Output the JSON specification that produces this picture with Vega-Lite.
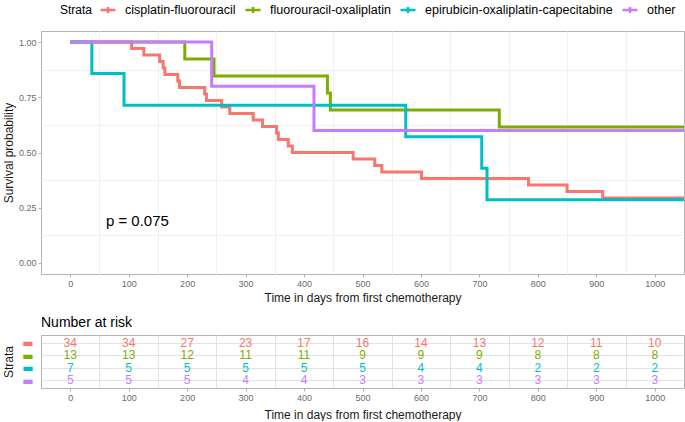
{
  "$schema": "https://vega.github.io/schema/vega-lite/v6.json",
  "padding": {"left": 1, "top": 0, "right": 1, "bottom": 0},
  "background": "white",
  "datasets": {
    "km": [
      {"strata": "cisplatin-fluorouracil", "time": 0, "surv": 1},
      {"strata": "cisplatin-fluorouracil", "time": 105, "surv": 0.9706},
      {"strata": "cisplatin-fluorouracil", "time": 126, "surv": 0.9412},
      {"strata": "cisplatin-fluorouracil", "time": 153, "surv": 0.9118},
      {"strata": "cisplatin-fluorouracil", "time": 159, "surv": 0.8824},
      {"strata": "cisplatin-fluorouracil", "time": 162, "surv": 0.8529},
      {"strata": "cisplatin-fluorouracil", "time": 184, "surv": 0.8235},
      {"strata": "cisplatin-fluorouracil", "time": 187, "surv": 0.7941},
      {"strata": "cisplatin-fluorouracil", "time": 230, "surv": 0.7647},
      {"strata": "cisplatin-fluorouracil", "time": 233, "surv": 0.7353},
      {"strata": "cisplatin-fluorouracil", "time": 259, "surv": 0.7059},
      {"strata": "cisplatin-fluorouracil", "time": 273, "surv": 0.6765},
      {"strata": "cisplatin-fluorouracil", "time": 313, "surv": 0.6471},
      {"strata": "cisplatin-fluorouracil", "time": 329, "surv": 0.6176},
      {"strata": "cisplatin-fluorouracil", "time": 353, "surv": 0.5882},
      {"strata": "cisplatin-fluorouracil", "time": 356, "surv": 0.5588},
      {"strata": "cisplatin-fluorouracil", "time": 373, "surv": 0.5294},
      {"strata": "cisplatin-fluorouracil", "time": 380, "surv": 0.5},
      {"strata": "cisplatin-fluorouracil", "time": 484, "surv": 0.4706},
      {"strata": "cisplatin-fluorouracil", "time": 521, "surv": 0.4412},
      {"strata": "cisplatin-fluorouracil", "time": 533, "surv": 0.4118},
      {"strata": "cisplatin-fluorouracil", "time": 601, "surv": 0.3824},
      {"strata": "cisplatin-fluorouracil", "time": 784, "surv": 0.3529},
      {"strata": "cisplatin-fluorouracil", "time": 850, "surv": 0.3235},
      {"strata": "cisplatin-fluorouracil", "time": 911, "surv": 0.2941},
      {"strata": "cisplatin-fluorouracil", "time": 1050, "surv": 0.2941},
      {"strata": "fluorouracil-oxaliplatin", "time": 0, "surv": 1},
      {"strata": "fluorouracil-oxaliplatin", "time": 196, "surv": 0.9231},
      {"strata": "fluorouracil-oxaliplatin", "time": 246, "surv": 0.8462},
      {"strata": "fluorouracil-oxaliplatin", "time": 440, "surv": 0.7692},
      {"strata": "fluorouracil-oxaliplatin", "time": 445, "surv": 0.6923},
      {"strata": "fluorouracil-oxaliplatin", "time": 734, "surv": 0.6154},
      {"strata": "fluorouracil-oxaliplatin", "time": 1050, "surv": 0.6154},
      {"strata": "epirubicin-oxaliplatin-capecitabine", "time": 0, "surv": 1},
      {"strata": "epirubicin-oxaliplatin-capecitabine", "time": 37, "surv": 0.8571},
      {"strata": "epirubicin-oxaliplatin-capecitabine", "time": 92, "surv": 0.7143},
      {"strata": "epirubicin-oxaliplatin-capecitabine", "time": 574, "surv": 0.5714},
      {"strata": "epirubicin-oxaliplatin-capecitabine", "time": 704, "surv": 0.4286},
      {"strata": "epirubicin-oxaliplatin-capecitabine", "time": 713, "surv": 0.2857},
      {"strata": "epirubicin-oxaliplatin-capecitabine", "time": 1050, "surv": 0.2857},
      {"strata": "other", "time": 0, "surv": 1},
      {"strata": "other", "time": 242, "surv": 0.8},
      {"strata": "other", "time": 417, "surv": 0.6},
      {"strata": "other", "time": 1050, "surv": 0.6}
    ],
    "pval": [{"x": 61, "y": 0.19, "label": "p = 0.075"}],
    "risk": [
      {"strata": "cisplatin-fluorouracil", "time": 0, "n": 34},
      {"strata": "cisplatin-fluorouracil", "time": 100, "n": 34},
      {"strata": "cisplatin-fluorouracil", "time": 200, "n": 27},
      {"strata": "cisplatin-fluorouracil", "time": 300, "n": 23},
      {"strata": "cisplatin-fluorouracil", "time": 400, "n": 17},
      {"strata": "cisplatin-fluorouracil", "time": 500, "n": 16},
      {"strata": "cisplatin-fluorouracil", "time": 600, "n": 14},
      {"strata": "cisplatin-fluorouracil", "time": 700, "n": 13},
      {"strata": "cisplatin-fluorouracil", "time": 800, "n": 12},
      {"strata": "cisplatin-fluorouracil", "time": 900, "n": 11},
      {"strata": "cisplatin-fluorouracil", "time": 1000, "n": 10},
      {"strata": "fluorouracil-oxaliplatin", "time": 0, "n": 13},
      {"strata": "fluorouracil-oxaliplatin", "time": 100, "n": 13},
      {"strata": "fluorouracil-oxaliplatin", "time": 200, "n": 12},
      {"strata": "fluorouracil-oxaliplatin", "time": 300, "n": 11},
      {"strata": "fluorouracil-oxaliplatin", "time": 400, "n": 11},
      {"strata": "fluorouracil-oxaliplatin", "time": 500, "n": 9},
      {"strata": "fluorouracil-oxaliplatin", "time": 600, "n": 9},
      {"strata": "fluorouracil-oxaliplatin", "time": 700, "n": 9},
      {"strata": "fluorouracil-oxaliplatin", "time": 800, "n": 8},
      {"strata": "fluorouracil-oxaliplatin", "time": 900, "n": 8},
      {"strata": "fluorouracil-oxaliplatin", "time": 1000, "n": 8},
      {"strata": "epirubicin-oxaliplatin-capecitabine", "time": 0, "n": 7},
      {"strata": "epirubicin-oxaliplatin-capecitabine", "time": 100, "n": 5},
      {"strata": "epirubicin-oxaliplatin-capecitabine", "time": 200, "n": 5},
      {"strata": "epirubicin-oxaliplatin-capecitabine", "time": 300, "n": 5},
      {"strata": "epirubicin-oxaliplatin-capecitabine", "time": 400, "n": 5},
      {"strata": "epirubicin-oxaliplatin-capecitabine", "time": 500, "n": 5},
      {"strata": "epirubicin-oxaliplatin-capecitabine", "time": 600, "n": 4},
      {"strata": "epirubicin-oxaliplatin-capecitabine", "time": 700, "n": 4},
      {"strata": "epirubicin-oxaliplatin-capecitabine", "time": 800, "n": 2},
      {"strata": "epirubicin-oxaliplatin-capecitabine", "time": 900, "n": 2},
      {"strata": "epirubicin-oxaliplatin-capecitabine", "time": 1000, "n": 2},
      {"strata": "other", "time": 0, "n": 5},
      {"strata": "other", "time": 100, "n": 5},
      {"strata": "other", "time": 200, "n": 5},
      {"strata": "other", "time": 300, "n": 4},
      {"strata": "other", "time": 400, "n": 4},
      {"strata": "other", "time": 500, "n": 3},
      {"strata": "other", "time": 600, "n": 3},
      {"strata": "other", "time": 700, "n": 3},
      {"strata": "other", "time": 800, "n": 3},
      {"strata": "other", "time": 900, "n": 3},
      {"strata": "other", "time": 1000, "n": 3}
    ]
  },
  "vconcat": [
    {
      "width": 643,
      "height": 243,
      "layer": [
        {
          "data": {"name": "pval"},
          "mark": {"type": "text", "align": "left", "baseline": "middle", "fontSize": 15, "color": "#000000"},
          "encoding": {
            "x": {"field": "x", "type": "quantitative", "scale": {"domain": [-50, 1050], "nice": false, "zero": false},
              "axis": {"orient": "top", "values": [50, 150, 250, 350, 450, 550, 650, 750, 850, 950], "labels": false, "ticks": false, "title": null, "grid": true, "gridColor": "#F0F0F0"}},
            "y": {"field": "y", "type": "quantitative", "scale": {"domain": [-0.05, 1.05], "nice": false, "zero": false},
              "axis": {"orient": "right", "values": [0.125, 0.375, 0.625, 0.875], "labels": false, "ticks": false, "title": null, "grid": true, "gridColor": "#F0F0F0"}},
            "text": {"field": "label", "type": "nominal"}
          }
        },
        {
          "data": {"name": "km"},
          "mark": {"type": "line", "interpolate": "step-after", "strokeWidth": 3, "clip": true},
          "encoding": {
            "x": {"field": "time", "type": "quantitative", "scale": {"domain": [-50, 1050], "nice": false, "zero": false},
              "axis": {"values": [0, 100, 200, 300, 400, 500, 600, 700, 800, 900, 1000], "format": "d", "title": "Time in days from first chemotherapy", "labelPadding": 2, "titlePadding": 4}},
            "y": {"field": "surv", "type": "quantitative", "scale": {"domain": [-0.05, 1.05], "nice": false, "zero": false},
              "axis": {"values": [0, 0.25, 0.5, 0.75, 1], "format": ".2f", "title": "Survival probability", "labelPadding": 2, "titlePadding": 3}},
            "color": {"field": "strata", "type": "nominal",
              "scale": {"domain": ["cisplatin-fluorouracil", "fluorouracil-oxaliplatin", "epirubicin-oxaliplatin-capecitabine", "other"], "range": ["#F8766D", "#7CAE00", "#00BFC4", "#C77CFF"]},
              "legend": {"orient": "none", "legendX": 19, "legendY": -30, "padding": 0, "direction": "horizontal", "title": "Strata", "titleOrient": "left", "titleFontSize": 12, "titleFontWeight": "normal", "titleColor": "#000000", "titlePadding": 6, "labelFontSize": 12.5, "labelColor": "#000000", "labelOffset": 8, "labelLimit": 400, "columnPadding": 4, "symbolType": "M-1,0H1M0,-0.4V0.4", "symbolSize": 225, "symbolStrokeWidth": 2.5}}
          }
        }
      ],
      "resolve": {"axis": {"x": "independent", "y": "independent"}}
    },
    {
      "width": 643,
      "height": 53,
      "title": {"text": "Number at risk", "anchor": "start", "fontSize": 14, "fontWeight": "normal", "color": "#000000", "offset": 5, "frame": "group"},
      "data": {"name": "risk"},
      "layer": [
        {
          "mark": {"type": "text", "opacity": 0},
          "encoding": {
            "x": {"field": "time", "type": "quantitative", "scale": {"domain": [-50, 1050], "nice": false, "zero": false},
              "axis": {"orient": "top", "values": [50, 150, 250, 350, 450, 550, 650, 750, 850, 950], "labels": false, "ticks": false, "title": null, "grid": true, "gridColor": "#E3E3E3"}},
            "text": {"field": "n", "type": "quantitative"}
          }
        },
        {
          "mark": {"type": "text", "fontSize": 12, "baseline": "middle", "align": "center"},
          "encoding": {
            "x": {"field": "time", "type": "quantitative", "scale": {"domain": [-50, 1050], "nice": false, "zero": false},
              "axis": {"values": [0, 100, 200, 300, 400, 500, 600, 700, 800, 900, 1000], "format": "d", "title": "Time in days from first chemotherapy", "labelPadding": 2, "titlePadding": 7}},
            "y": {"field": "strata", "type": "nominal", "sort": ["cisplatin-fluorouracil", "fluorouracil-oxaliplatin", "epirubicin-oxaliplatin-capecitabine", "other"],
              "scale": {"padding": 0.6},
              "axis": {"title": "Strata", "ticks": false, "grid": true, "labelExpr": "'▬'", "labelFont": "DejaVu Sans", "labelFontSize": 12, "labelPadding": 8, "titlePadding": 6,
                "labelColor": {"condition": [
                  {"test": "datum.value === 'cisplatin-fluorouracil'", "value": "#F8766D"},
                  {"test": "datum.value === 'fluorouracil-oxaliplatin'", "value": "#7CAE00"},
                  {"test": "datum.value === 'epirubicin-oxaliplatin-capecitabine'", "value": "#00BFC4"}
                ], "value": "#C77CFF"}}},
            "text": {"field": "n", "type": "quantitative"},
            "color": {"field": "strata", "type": "nominal",
              "scale": {"domain": ["cisplatin-fluorouracil", "fluorouracil-oxaliplatin", "epirubicin-oxaliplatin-capecitabine", "other"], "range": ["#F8766D", "#7CAE00", "#00BFC4", "#C77CFF"]},
              "legend": null}
          }
        }
      ],
      "resolve": {"axis": {"x": "independent", "y": "independent"}}
    }
  ],
  "spacing": 11,
  "resolve": {"scale": {"color": "independent"}, "legend": {"color": "independent"}},
  "config": {
    "font": "Liberation Sans",
    "view": {"stroke": "#B3B3B3", "strokeWidth": 1},
    "axis": {"domain": false, "gridColor": "#E3E3E3", "gridWidth": 1, "tickColor": "#B3B3B3", "tickSize": 3, "labelColor": "#6B6B6B", "labelFontSize": 9, "titleFontSize": 12, "titleFontWeight": "normal", "titleColor": "#1A1A1A", "labelFont": "Liberation Sans", "titleFont": "Liberation Sans"},
    "legend": {"labelFont": "Liberation Sans", "titleFont": "Liberation Sans"}
  }
}
